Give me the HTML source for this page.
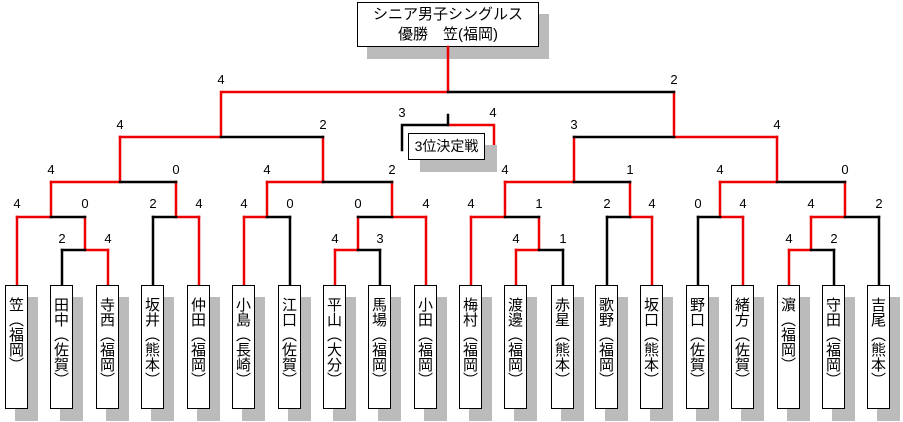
<!DOCTYPE html>
<html><head><meta charset="utf-8"><style>
body{margin:0;width:903px;height:422px;background:#fff;position:relative;overflow:hidden;font-family:"Liberation Sans","Noto Sans CJK JP",sans-serif}
.p{position:absolute;top:285px;border:1px solid #000;background:#fff;box-shadow:10px 12px 0 #bbb;writing-mode:vertical-rl;font-family:"Noto Sans CJK JP",sans-serif;font-size:15px;line-height:21px;text-align:left;padding-top:11px;box-sizing:border-box;height:124px;width:23px}
.s{position:absolute;font-size:13px;width:20px;text-align:center;line-height:14px}
svg{position:absolute;left:0;top:0}
</style></head><body>
<div style="position:absolute;left:357px;top:2px;border:1px solid #000;background:#fff;box-shadow:10px 12px 0 #bbb;text-align:center;font-size:15px;line-height:20px;padding-top:2px;box-sizing:border-box;height:45px;width:182px">シニア男子シングルス<br>優勝　笠(福岡)</div>
<svg width="903" height="422" fill="none" stroke-width="2.5" stroke-linecap="square">
<g stroke="#e00">
<path d="M17 217V285M108 250V285M199 217V285M244 217V285M335 250V285M426 217V285M471 217V285M516 250V285M652 217V285M743 217V285M789 250V285"/>
<path d="M85 250H108M335 250H358M516 250H539M789 250H811M85 217V250M358 217V250M539 217V250M811 217V250"/>
<path d="M17 217H51M176 217H199M244 217H267M392 217H426M471 217H505M630 217H652M720 217H743M811 217H845"/>
<path d="M51 182V217M176 182V217M267 182V217M392 182V217M505 182V217M630 182V217M720 182V217M845 182V217"/>
<path d="M51 182H120M267 182H323M505 182H574M720 182H777M120 137V182M323 137V182M574 137V182M777 137V182"/>
<path d="M120 137H221M674 137H777M221 92V137M674 92V137M221 92H448M448 47V92"/>
<path d="M448 125H494V147"/>
</g>
<g stroke="#000">
<path d="M62 250V285M153 217V285M290 217V285M380 250V285M563 250V285M607 217V285M698 217V285M834 250V285M879 217V285"/>
<path d="M62 250H85M358 250H380M539 250H563M811 250H834"/>
<path d="M51 217H85M153 217H176M267 217H290M358 217H392M505 217H539M607 217H630M698 217H720M845 217H879"/>
<path d="M120 182H176M323 182H392M574 182H630M777 182H845"/>
<path d="M221 137H323M574 137H674M448 92H674"/>
<path d="M448 115V125H402V150"/>
</g>
</svg>
<div style="position:absolute;left:408px;top:133px;width:77px;height:27px;border:1px solid #000;background:#fff;box-shadow:12px 12px 0 #bbb;box-sizing:border-box;font-size:14px;line-height:25px;text-align:center">3位決定戦</div>
<div class="s" style="left:211px;top:73px">4</div><div class="s" style="left:664px;top:73px">2</div>
<div class="s" style="left:110px;top:118px">4</div><div class="s" style="left:313px;top:118px">2</div><div class="s" style="left:564px;top:118px">3</div><div class="s" style="left:767px;top:118px">4</div>
<div class="s" style="left:392px;top:106px">3</div><div class="s" style="left:483px;top:106px">4</div>
<div class="s" style="left:41px;top:163px">4</div><div class="s" style="left:166px;top:163px">0</div><div class="s" style="left:257px;top:163px">4</div><div class="s" style="left:382px;top:163px">2</div><div class="s" style="left:495px;top:163px">4</div><div class="s" style="left:620px;top:163px">1</div><div class="s" style="left:710px;top:163px">4</div><div class="s" style="left:835px;top:163px">0</div>
<div class="s" style="left:7px;top:197px">4</div><div class="s" style="left:75px;top:197px">0</div><div class="s" style="left:143px;top:197px">2</div><div class="s" style="left:189px;top:197px">4</div><div class="s" style="left:234px;top:197px">4</div><div class="s" style="left:280px;top:197px">0</div><div class="s" style="left:348px;top:197px">0</div><div class="s" style="left:416px;top:197px">4</div><div class="s" style="left:461px;top:197px">4</div><div class="s" style="left:529px;top:197px">1</div><div class="s" style="left:597px;top:197px">2</div><div class="s" style="left:642px;top:197px">4</div><div class="s" style="left:688px;top:197px">0</div><div class="s" style="left:733px;top:197px">4</div><div class="s" style="left:801px;top:197px">4</div><div class="s" style="left:869px;top:197px">2</div>
<div class="s" style="left:52px;top:232px">2</div><div class="s" style="left:98px;top:232px">4</div><div class="s" style="left:325px;top:232px">4</div><div class="s" style="left:370px;top:232px">3</div><div class="s" style="left:506px;top:232px">4</div><div class="s" style="left:553px;top:232px">1</div><div class="s" style="left:779px;top:232px">4</div><div class="s" style="left:824px;top:232px">2</div>
<div class="p" style="left:5px">笠（福岡）</div>
<div class="p" style="left:50px">田中（佐賀）</div>
<div class="p" style="left:96px">寺西（福岡）</div>
<div class="p" style="left:141px">坂井（熊本）</div>
<div class="p" style="left:187px">仲田（福岡）</div>
<div class="p" style="left:232px">小島（長崎）</div>
<div class="p" style="left:278px">江口（佐賀）</div>
<div class="p" style="left:323px">平山（大分）</div>
<div class="p" style="left:368px">馬場（福岡）</div>
<div class="p" style="left:414px">小田（福岡）</div>
<div class="p" style="left:459px">梅村（福岡）</div>
<div class="p" style="left:504px">渡邊（福岡）</div>
<div class="p" style="left:551px">赤星（熊本）</div>
<div class="p" style="left:595px">歌野（福岡）</div>
<div class="p" style="left:640px">坂口（熊本）</div>
<div class="p" style="left:686px">野口（佐賀）</div>
<div class="p" style="left:731px">緒方（佐賀）</div>
<div class="p" style="left:777px">濵（福岡）</div>
<div class="p" style="left:822px">守田（福岡）</div>
<div class="p" style="left:867px">吉尾（熊本）</div>
</body></html>
